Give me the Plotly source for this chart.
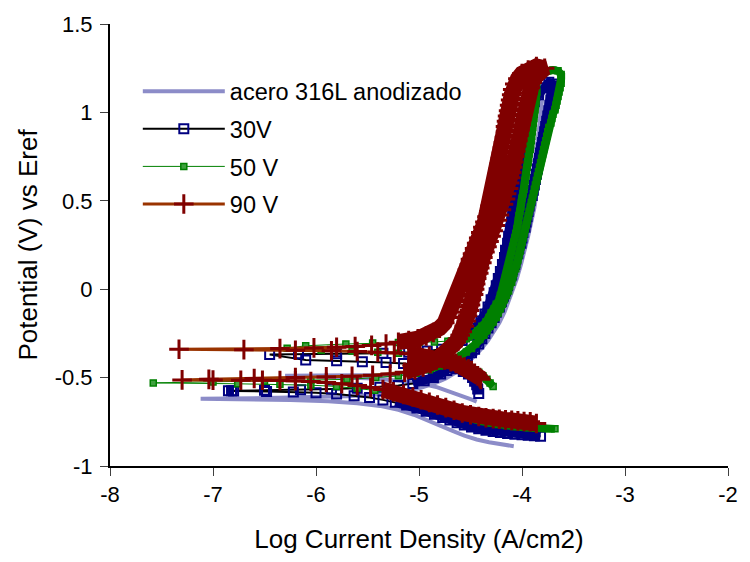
import plotly.graph_objects as go

# ---------------- data (log current density, potential) ----------------
ref_pts = [
    (-4.08, -0.888), (-4.20, -0.878), (-4.32, -0.866), (-4.44, -0.85), (-4.56, -0.828), (-4.68, -0.80),
    (-4.80, -0.77), (-4.92, -0.74), (-5.05, -0.71), (-5.20, -0.682), (-5.38, -0.66), (-5.60, -0.645),
    (-5.88, -0.634), (-6.25, -0.626), (-6.65, -0.622), (-7.12, -0.62),
    (-6.60, -0.617), (-6.10, -0.612), (-5.70, -0.605), (-5.40, -0.595), (-5.18, -0.58), (-5.00, -0.56),
    (-4.86, -0.535), (-4.74, -0.505), (-4.64, -0.47), (-4.55, -0.43), (-4.47, -0.385), (-4.40, -0.34),
    (-4.33, -0.29), (-4.27, -0.24), (-4.22, -0.19), (-4.17, -0.13), (-4.13, -0.07), (-4.09, -0.01),
    (-4.05, 0.06), (-4.01, 0.14), (-3.97, 0.22), (-3.94, 0.30), (-3.91, 0.38), (-3.88, 0.46),
    (-3.86, 0.54), (-3.84, 0.62), (-3.81, 0.70), (-3.79, 0.78), (-3.77, 0.86), (-3.75, 0.94),
    (-3.73, 1.02), (-3.72, 1.08), (-3.73, 1.13), (-3.77, 1.15),
    (-3.80, 1.10), (-3.81, 1.04), (-3.82, 0.96), (-3.84, 0.88), (-3.86, 0.80), (-3.88, 0.72),
    (-3.90, 0.64), (-3.92, 0.56), (-3.94, 0.48), (-3.97, 0.40), (-4.00, 0.32), (-4.03, 0.24),
    (-4.07, 0.16), (-4.11, 0.08), (-4.15, 0.00), (-4.20, -0.08), (-4.26, -0.16), (-4.33, -0.24),
    (-4.42, -0.32), (-4.55, -0.39), (-4.72, -0.44), (-4.95, -0.47), (-5.30, -0.485), (-5.80, -0.49),
    (-6.30, -0.49),
    (-5.80, -0.497), (-5.40, -0.507), (-5.15, -0.52), (-4.97, -0.535), (-4.82, -0.555), (-4.70, -0.578),
    (-4.59, -0.602), (-4.50, -0.622), (-4.44, -0.636),
]

v30_pts = [
    (-3.82, -0.832), (-3.88, -0.829), (-3.94, -0.826), (-4.00, -0.823), (-4.07, -0.82), (-4.14, -0.816),
    (-4.21, -0.811), (-4.28, -0.805), (-4.35, -0.798), (-4.42, -0.79), (-4.49, -0.78), (-4.56, -0.768),
    (-4.63, -0.755), (-4.70, -0.74), (-4.77, -0.725), (-4.85, -0.708), (-4.93, -0.69), (-5.02, -0.672),
    (-5.12, -0.655), (-5.23, -0.64), (-5.35, -0.626), (-5.48, -0.613), (-5.63, -0.602), (-5.80, -0.593),
    (-6.00, -0.586), (-6.22, -0.581), (-6.48, -0.578), (-6.80, -0.576), (-6.85, -0.575),
    (-6.82, -0.574), (-6.50, -0.572), (-6.15, -0.569), (-5.85, -0.565), (-5.60, -0.56), (-5.38, -0.554),
    (-5.20, -0.545), (-5.06, -0.533), (-4.95, -0.518), (-4.86, -0.50), (-4.79, -0.48), (-4.73, -0.46),
    (-4.67, -0.44), (-4.62, -0.42), (-4.57, -0.40), (-4.53, -0.38), (-4.49, -0.36), (-4.46, -0.34),
    (-4.42, -0.31), (-4.39, -0.28), (-4.36, -0.25), (-4.33, -0.22), (-4.30, -0.19), (-4.27, -0.16),
    (-4.25, -0.13), (-4.22, -0.10), (-4.20, -0.07), (-4.18, -0.04), (-4.16, -0.01), (-4.14, 0.02),
    (-4.12, 0.05), (-4.10, 0.08), (-4.09, 0.11), (-4.07, 0.14), (-4.06, 0.17), (-4.04, 0.20),
    (-4.03, 0.23), (-4.01, 0.26), (-4.00, 0.29), (-3.99, 0.32), (-3.97, 0.35), (-3.96, 0.38),
    (-3.95, 0.41), (-3.94, 0.44), (-3.93, 0.47), (-3.92, 0.50), (-3.90, 0.53), (-3.89, 0.56),
    (-3.88, 0.59), (-3.87, 0.62), (-3.86, 0.65), (-3.85, 0.68), (-3.84, 0.71), (-3.83, 0.74),
    (-3.82, 0.77), (-3.81, 0.80), (-3.80, 0.83), (-3.79, 0.86), (-3.78, 0.89), (-3.77, 0.92),
    (-3.76, 0.95), (-3.75, 0.98), (-3.74, 1.01), (-3.73, 1.04), (-3.72, 1.07), (-3.71, 1.10),
    (-3.70, 1.13), (-3.70, 1.16),
    (-3.74, 1.17), (-3.79, 1.14), (-3.84, 1.10), (-3.88, 1.06), (-3.91, 1.02), (-3.93, 0.98),
    (-3.95, 0.94), (-3.96, 0.90), (-3.98, 0.86), (-3.99, 0.82), (-4.00, 0.78), (-4.01, 0.74),
    (-4.02, 0.70), (-4.03, 0.66), (-4.04, 0.62), (-4.05, 0.58), (-4.06, 0.54), (-4.07, 0.50),
    (-4.08, 0.46), (-4.09, 0.42), (-4.10, 0.38), (-4.11, 0.34), (-4.13, 0.30), (-4.14, 0.26),
    (-4.16, 0.22), (-4.17, 0.18), (-4.19, 0.14), (-4.21, 0.10), (-4.23, 0.06), (-4.25, 0.02),
    (-4.27, -0.02), (-4.30, -0.06), (-4.33, -0.10), (-4.36, -0.14), (-4.40, -0.18), (-4.45, -0.22),
    (-4.51, -0.26), (-4.58, -0.29), (-4.67, -0.32), (-4.78, -0.34), (-4.92, -0.35), (-5.10, -0.357),
    (-5.35, -0.362), (-5.80, -0.365), (-6.17, -0.365), (-6.45, -0.37),
    (-6.10, -0.40), (-5.80, -0.405), (-5.55, -0.41), (-5.32, -0.415), (-5.15, -0.42), (-5.00, -0.425),
    (-4.88, -0.43), (-4.78, -0.435), (-4.70, -0.44), (-4.63, -0.45), (-4.57, -0.465), (-4.52, -0.48),
    (-4.48, -0.50), (-4.46, -0.52), (-4.44, -0.54), (-4.43, -0.565), (-4.42, -0.59),
]

v50_pts = [
    (-3.68, -0.79), (-3.74, -0.79), (-3.80, -0.788), (-3.87, -0.786), (-3.94, -0.783), (-4.01, -0.78),
    (-4.08, -0.776), (-4.15, -0.771), (-4.23, -0.765), (-4.31, -0.757), (-4.39, -0.747), (-4.47, -0.735),
    (-4.55, -0.72), (-4.63, -0.705), (-4.71, -0.688), (-4.79, -0.67), (-4.87, -0.652), (-4.96, -0.634),
    (-5.06, -0.616), (-5.17, -0.60), (-5.29, -0.585), (-5.43, -0.572), (-5.60, -0.56), (-5.80, -0.55),
    (-6.05, -0.543), (-6.35, -0.538), (-6.76, -0.535), (-7.58, -0.53),
    (-7.00, -0.525), (-6.50, -0.52), (-6.05, -0.515), (-5.70, -0.51), (-5.42, -0.50), (-5.20, -0.49),
    (-5.03, -0.475), (-4.90, -0.455), (-4.80, -0.435), (-4.72, -0.415), (-4.65, -0.395), (-4.59, -0.375),
    (-4.54, -0.355), (-4.49, -0.335), (-4.45, -0.31), (-4.41, -0.285), (-4.37, -0.26), (-4.34, -0.235),
    (-4.31, -0.21), (-4.28, -0.185), (-4.25, -0.16), (-4.23, -0.135), (-4.21, -0.11), (-4.19, -0.085),
    (-4.17, -0.06), (-4.15, -0.035), (-4.13, -0.01), (-4.12, 0.015), (-4.10, 0.04), (-4.09, 0.065),
    (-4.08, 0.09), (-4.06, 0.115), (-4.05, 0.14), (-4.04, 0.165), (-4.03, 0.19), (-4.02, 0.215),
    (-4.01, 0.24), (-4.00, 0.265), (-3.99, 0.29), (-3.98, 0.315), (-3.97, 0.34), (-3.96, 0.365),
    (-3.95, 0.39), (-3.94, 0.415), (-3.93, 0.44), (-3.92, 0.465), (-3.91, 0.49), (-3.90, 0.515),
    (-3.89, 0.54), (-3.88, 0.565), (-3.87, 0.59), (-3.86, 0.615), (-3.85, 0.64), (-3.84, 0.665),
    (-3.83, 0.69), (-3.82, 0.715), (-3.81, 0.74), (-3.80, 0.765), (-3.79, 0.79), (-3.78, 0.815),
    (-3.77, 0.84), (-3.76, 0.865), (-3.75, 0.89), (-3.74, 0.915), (-3.72, 0.94), (-3.71, 0.965),
    (-3.70, 0.99), (-3.68, 1.015), (-3.67, 1.04), (-3.66, 1.065), (-3.65, 1.09), (-3.64, 1.115),
    (-3.63, 1.14), (-3.62, 1.165), (-3.62, 1.19), (-3.62, 1.215),
    (-3.65, 1.235), (-3.70, 1.24), (-3.75, 1.235), (-3.80, 1.225), (-3.84, 1.21), (-3.86, 1.19),
    (-3.86, 1.165), (-3.86, 1.14), (-3.855, 1.115), (-3.86, 1.09), (-3.865, 1.065), (-3.87, 1.04),
    (-3.875, 1.015), (-3.88, 0.99), (-3.885, 0.965), (-3.89, 0.94), (-3.895, 0.915), (-3.90, 0.89),
    (-3.905, 0.865), (-3.91, 0.84), (-3.915, 0.815), (-3.92, 0.79), (-3.93, 0.765), (-3.935, 0.74),
    (-3.94, 0.715), (-3.95, 0.69), (-3.955, 0.665), (-3.96, 0.64), (-3.97, 0.615), (-3.975, 0.59),
    (-3.98, 0.565), (-3.99, 0.54), (-4.00, 0.515), (-4.005, 0.49), (-4.01, 0.465), (-4.02, 0.44),
    (-4.03, 0.415), (-4.035, 0.39), (-4.04, 0.365), (-4.05, 0.34), (-4.06, 0.315), (-4.07, 0.29),
    (-4.08, 0.265), (-4.09, 0.24), (-4.10, 0.215), (-4.11, 0.19), (-4.12, 0.165), (-4.13, 0.14),
    (-4.14, 0.115), (-4.15, 0.09), (-4.16, 0.065), (-4.17, 0.04), (-4.18, 0.015), (-4.19, -0.01),
    (-4.21, -0.035), (-4.22, -0.06), (-4.25, -0.085), (-4.27, -0.11), (-4.30, -0.135), (-4.32, -0.16),
    (-4.35, -0.185), (-4.39, -0.21), (-4.43, -0.235), (-4.48, -0.26), (-4.54, -0.28), (-4.62, -0.29),
    (-4.72, -0.295), (-4.85, -0.298), (-5.00, -0.30), (-5.20, -0.302), (-5.45, -0.305), (-5.71, -0.31),
    (-6.10, -0.32), (-6.28, -0.334),
    (-5.95, -0.345), (-5.65, -0.35), (-5.40, -0.356), (-5.20, -0.362), (-5.04, -0.37), (-4.92, -0.378),
    (-4.82, -0.386), (-4.74, -0.395), (-4.67, -0.405), (-4.61, -0.415), (-4.56, -0.425), (-4.51, -0.44),
    (-4.46, -0.455), (-4.42, -0.47), (-4.38, -0.49), (-4.34, -0.51), (-4.31, -0.53), (-4.28, -0.55),
]

v90_pts = [
    (-3.86, -0.76), (-3.92, -0.75), (-3.98, -0.748), (-4.04, -0.745), (-4.10, -0.742), (-4.16, -0.739),
    (-4.22, -0.736), (-4.28, -0.732), (-4.35, -0.727), (-4.42, -0.72), (-4.50, -0.71), (-4.58, -0.70),
    (-4.66, -0.685), (-4.74, -0.67), (-4.82, -0.655), (-4.90, -0.64), (-4.98, -0.625), (-5.06, -0.61),
    (-5.15, -0.595), (-5.25, -0.58), (-5.35, -0.568), (-5.47, -0.556), (-5.60, -0.545), (-5.75, -0.535),
    (-5.90, -0.528), (-6.05, -0.522), (-6.20, -0.518), (-6.35, -0.516), (-6.52, -0.515), (-6.73, -0.515),
    (-7.00, -0.514), (-7.30, -0.513),
    (-7.04, -0.51), (-6.60, -0.505), (-6.20, -0.50), (-5.90, -0.496), (-5.65, -0.492), (-5.45, -0.487),
    (-5.28, -0.48), (-5.14, -0.47), (-5.04, -0.455), (-4.96, -0.44), (-4.89, -0.42), (-4.83, -0.40),
    (-4.78, -0.38), (-4.74, -0.36), (-4.70, -0.34), (-4.67, -0.32), (-4.64, -0.30), (-4.62, -0.28),
    (-4.60, -0.26), (-4.58, -0.24), (-4.56, -0.21), (-4.54, -0.18), (-4.53, -0.15), (-4.51, -0.12),
    (-4.50, -0.09), (-4.49, -0.06), (-4.47, -0.03), (-4.46, 0.00), (-4.45, 0.03), (-4.44, 0.06),
    (-4.42, 0.09), (-4.41, 0.12), (-4.39, 0.15), (-4.38, 0.18), (-4.36, 0.21), (-4.34, 0.24),
    (-4.32, 0.27), (-4.30, 0.30), (-4.28, 0.33), (-4.26, 0.36), (-4.24, 0.39), (-4.22, 0.42),
    (-4.20, 0.45), (-4.18, 0.48), (-4.16, 0.51), (-4.15, 0.54), (-4.13, 0.57), (-4.12, 0.60),
    (-4.11, 0.63), (-4.10, 0.66), (-4.09, 0.69), (-4.08, 0.72), (-4.07, 0.75), (-4.06, 0.78),
    (-4.05, 0.81), (-4.04, 0.84), (-4.03, 0.87), (-4.02, 0.90), (-4.01, 0.93), (-4.00, 0.96),
    (-3.99, 0.99), (-3.98, 1.02), (-3.97, 1.05), (-3.96, 1.08), (-3.94, 1.11), (-3.92, 1.14),
    (-3.90, 1.17), (-3.87, 1.20), (-3.83, 1.23), (-3.78, 1.25),
    (-3.86, 1.26), (-3.94, 1.24), (-4.00, 1.22), (-4.04, 1.19), (-4.07, 1.16), (-4.09, 1.13),
    (-4.10, 1.10), (-4.11, 1.07), (-4.12, 1.04), (-4.13, 1.01), (-4.14, 0.98), (-4.15, 0.95),
    (-4.16, 0.92), (-4.16, 0.89), (-4.17, 0.86), (-4.18, 0.83), (-4.19, 0.80), (-4.20, 0.77),
    (-4.21, 0.74), (-4.22, 0.71), (-4.23, 0.68), (-4.24, 0.65), (-4.25, 0.62), (-4.26, 0.59),
    (-4.27, 0.56), (-4.28, 0.53), (-4.29, 0.50), (-4.31, 0.47), (-4.32, 0.44), (-4.34, 0.41),
    (-4.36, 0.38), (-4.38, 0.35), (-4.40, 0.32), (-4.42, 0.29), (-4.44, 0.26), (-4.46, 0.23),
    (-4.48, 0.20), (-4.50, 0.17), (-4.51, 0.14), (-4.53, 0.11), (-4.54, 0.08), (-4.56, 0.05),
    (-4.57, 0.02), (-4.59, -0.01), (-4.61, -0.04), (-4.63, -0.07), (-4.65, -0.10), (-4.68, -0.13),
    (-4.71, -0.16), (-4.75, -0.19), (-4.80, -0.22), (-4.86, -0.245), (-4.93, -0.265), (-5.01, -0.28),
    (-5.10, -0.29), (-5.20, -0.30), (-5.32, -0.31), (-5.46, -0.318), (-5.62, -0.324), (-5.80, -0.328),
    (-6.02, -0.332), (-6.35, -0.336), (-7.33, -0.34),
    (-6.70, -0.342), (-6.20, -0.345), (-5.85, -0.348), (-5.60, -0.352), (-5.40, -0.356), (-5.24, -0.36),
    (-5.10, -0.365), (-4.99, -0.372), (-4.90, -0.38), (-4.82, -0.39), (-4.75, -0.40), (-4.69, -0.41),
    (-4.64, -0.42), (-4.60, -0.43), (-4.56, -0.44), (-4.52, -0.45), (-4.49, -0.46), (-4.46, -0.475),
    (-4.43, -0.49), (-4.41, -0.50), (-4.40, -0.51),
]

x_tick_vals = [-8, -7, -6, -5, -4, -3, -2]
x_tick_text = ["-8", "-7", "-6", "-5", "-4", "-3", "-2"]
y_tick_vals = [-1, -0.5, 0, 0.5, 1, 1.5]
y_tick_text = ["-1", "-0.5", "0", "0.5", "1", "1.5"]

series_names = ["acero 316L anodizado", "30V", "50 V", "90 V"]


def split(pts):
    return [p[0] for p in pts], [p[1] for p in pts]


def dense_only(pts, maxgap_px=12.0):
    """Same points, with breaks where consecutive samples are far apart (sparse regions)."""
    xs, ys, prev = [], [], None
    for a, b in pts:
        if prev is not None:
            d2 = ((a - prev[0]) * 104.7) ** 2 + ((b - prev[1]) * 178.6) ** 2
            if d2 > maxgap_px ** 2:
                xs.append(None)
                ys.append(None)
        xs.append(a)
        ys.append(b)
        prev = (a, b)
    return xs, ys


FONT = "Liberation Sans, Arial, sans-serif"
fig = go.Figure()

x, y = split(ref_pts)
fig.add_trace(go.Scatter(x=x, y=y, mode="lines", name=series_names[0], legendgroup="a",
                         line=dict(color="#8C8CC8", width=4)))

x, y = split(v30_pts)
fig.add_trace(go.Scatter(x=x, y=y, mode="lines+markers", name=series_names[1], legendgroup="b",
                         line=dict(color="#000000", width=2),
                         marker=dict(symbol="square-open", size=9, color="#000080",
                                     line=dict(color="#000080", width=2))))
x, y = dense_only(v30_pts)
fig.add_trace(go.Scatter(x=x, y=y, mode="lines", showlegend=False, hoverinfo="skip", legendgroup="b",
                         line=dict(color="#000080", width=9)))

x, y = split(v50_pts)
fig.add_trace(go.Scatter(x=x, y=y, mode="lines+markers", name=series_names[2], legendgroup="c",
                         line=dict(color="#008000", width=1),
                         marker=dict(symbol="square", size=6, color="#3FA03F",
                                     line=dict(color="#008000", width=1.5))))
x, y = dense_only(v50_pts)
fig.add_trace(go.Scatter(x=x, y=y, mode="lines", showlegend=False, hoverinfo="skip", legendgroup="c",
                         line=dict(color="#008000", width=8)))

x, y = split(v90_pts)
fig.add_trace(go.Scatter(x=x, y=y, mode="lines+markers", name=series_names[3], legendgroup="d",
                         line=dict(color="#993300", width=3),
                         marker=dict(symbol="cross-thin", size=14, color="#800000",
                                     line=dict(color="#800000", width=3))))
x, y = dense_only(v90_pts)
fig.add_trace(go.Scatter(x=x, y=y, mode="lines", showlegend=False, hoverinfo="skip", legendgroup="d",
                         line=dict(color="#800000", width=16)))

axis_common = dict(showline=True, linecolor="black", linewidth=2, ticks="outside", ticklen=8,
                   tickwidth=1, tickcolor="#404040", showgrid=False, zeroline=False,
                   tickfont=dict(family=FONT, size=22, color="black"))

fig.update_layout(
    width=750, height=562,
    margin=dict(l=110, r=12, t=19, b=96),
    paper_bgcolor="white", plot_bgcolor="white",
    font=dict(family=FONT, color="black"),
    showlegend=True,
    legend=dict(x=0.045, y=0.897, xanchor="left", yanchor="top", bgcolor="rgba(0,0,0,0)",
                font=dict(family=FONT, size=23.5, color="black"), itemwidth=82,
                tracegroupgap=4, traceorder="grouped"),
    xaxis=dict(range=[-8, -2], tickvals=x_tick_vals, ticktext=x_tick_text,
               title=dict(text="Log Current Density (A/cm2)", font=dict(family=FONT, size=26), standoff=23),
               **axis_common),
    yaxis=dict(range=[-1, 1.5], tickvals=y_tick_vals, ticktext=y_tick_text, ticklabelstandoff=3,
               title=dict(text="Potential (V) vs Eref", font=dict(family=FONT, size=26), standoff=10),
               **axis_common),
)

fig.write_html("out.html")
